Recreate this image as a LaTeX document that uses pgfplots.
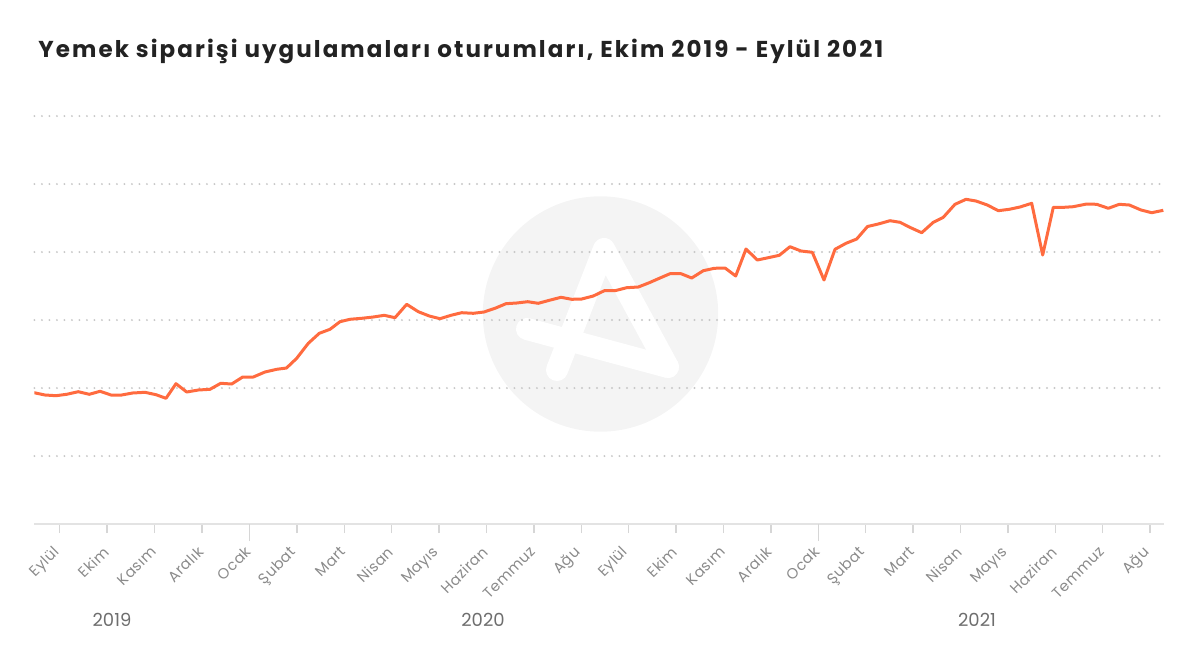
\documentclass[border=0pt]{standalone}
\usepackage{pgfplots}
\pgfplotsset{compat=1.18}
\usepackage{pgfplotstable}
\usepackage{graphicx}
\usepackage{fontspec}
\setmainfont{Poppins}
\newfontfamily\titlefont[LetterSpace=9]{Poppins}
\newfontfamily\labfont[LetterSpace=3]{Poppins}
\newcommand{\rl}[1]{\rotatebox{45}{#1}}
\definecolor{lineor}{HTML}{FF6B3F}
\definecolor{gridc}{HTML}{C8C8C8}
\definecolor{axc}{HTML}{E3E3E3}
\definecolor{tickc}{HTML}{D6D6D6}
\definecolor{labc}{HTML}{8A8A8A}
\definecolor{yearc}{HTML}{6E6E6E}
\definecolor{titc}{HTML}{222222}
\definecolor{wm}{HTML}{F4F4F4}
\pgfplotstableread{
x y
34 131.3
45 129
56 128.3
66.7 129.7
78.3 132.3
89.3 129.7
100 132.7
111 129
121.7 129
132.7 131
145 131.7
156 129.3
166 125.7
176 140.3
186.7 132
198.3 134
210 134.7
220.7 140.7
231.7 140
242.7 147
253.3 147
265 152
276.7 154.7
286.5 156
296.7 165.7
308.3 180.7
319.3 190.7
330 194.7
340 202.3
350 204.7
361.7 205.7
373.3 207
384.3 208.7
395 206.3
406.7 219.7
418.3 212.3
429.3 208
440 205.3
451 208.7
461.7 211.3
473.3 210.7
484 212
495 215.7
506 220.3
516.7 221
527.7 222.3
538.3 220.7
549.3 223.7
561 226.7
571.7 224.7
581.7 225
593.3 228
604.3 233.3
615 233.3
626.7 236.3
638.3 237
649.3 241.3
660 246
670 250.3
681 250.3
691.7 246
703.3 253.3
714.3 255.7
725 256
735.7 248
746 275
757.3 264
768.3 266.3
779.3 268.7
790 277.3
801 273
812.3 271.7
824 244
835 274.7
846 280.7
856.7 285
867.5 297.5
878.3 300
890 303.3
900 301.7
910.7 296.3
921.7 291.3
933.3 301.7
943.3 306.7
955 319.7
966 324.7
976 323
987.3 319
998.3 313.3
1009.3 314.7
1020 317
1031.7 320.7
1042.7 269
1053.3 316.7
1064 316.7
1073.3 317.3
1086.7 320
1096.7 319.7
1108.3 315.7
1119.3 319.7
1129.3 319
1141 314
1151.7 311.3
1163.3 313.7
}\sessions
\begin{document}
\begin{tikzpicture}
\begin{scope}[x=0.5pt,y=0.5pt]
\useasboundingbox (0,0) rectangle (1200,666);
% watermark
\fill[wm] (600.5,352) circle (58.85pt);
\draw[white,line width=11pt,line cap=round,line join=round] (557,296) -- (604,417) -- (668,299);
\draw[white,line width=11pt,line cap=round] (527,337) -- (668,299);
\end{scope}
\begin{axis}[
  at={(17.2pt,71pt)}, anchor=south west,
  scale only axis, width=564.55pt, height=204.5pt,
  xmin=34.4, xmax=1163.5, ymin=0, ymax=409,
  axis x line*=bottom, axis y line*=left,
  x axis line style={axc, line width=1pt, -},
  y axis line style={draw=none},
  ytick={68,136,204,272,340,408}, yticklabels={},
  ytick style={draw=none},
  ymajorgrids,
  major grid style={gridc, line width=1.1pt, dash pattern=on 0pt off 3.75pt, line cap=round},
  xtick={59.8,107.2,154.6,202.0,249.4,296.8,344.2,391.6,439.0,486.4,533.8,581.2,628.6,676.0,723.4,770.8,818.2,865.6,913.0,960.4,1007.8,1055.2,1102.6,1150.0},
  xticklabels={\rl{Eylül},\rl{Ekim},\rl{Kasım},\rl{Aralık},\rl{Ocak},\rl{Şubat},\rl{Mart},\rl{Nisan},\rl{Mayıs},\rl{Haziran},\rl{Temmuz},\rl{Ağu},\rl{Eylül},\rl{Ekim},\rl{Kasım},\rl{Aralık},\rl{Ocak},\rl{Şubat},\rl{Mart},\rl{Nisan},\rl{Mayıs},\rl{Haziran},\rl{Temmuz},\rl{Ağu}},
  tick align=outside, xtick pos=bottom,
  major tick length=4.5pt,
  x tick style={tickc, line width=0.7pt},
  x tick label style={font=\labfont\fontsize{7.4}{8}\selectfont, text=labc, inner sep=0pt, anchor=north east, yshift=-6pt, xshift=1.5pt},
  extra x ticks={249.4,818.2}, extra x tick labels={},
  extra x tick style={major tick length=8.5pt, x tick style={tickc, line width=0.7pt}},
]
\addplot[lineor, line width=1.5pt, line join=round] table[x=x,y=y] {\sessions};
\end{axis}
\begin{scope}[x=0.5pt,y=0.5pt]
\node[anchor=base west, titc, font=\titlefont\fontsize{11.5}{13}\selectfont\bfseries, inner sep=0pt] at (38,608.7) {Yemek siparişi uygulamaları oturumları, Ekim 2019 - Eylül 2021};
\node[anchor=base, yearc, font=\fontsize{9}{10}\selectfont, inner sep=0pt] at (112,40) {2019};
\node[anchor=base, yearc, font=\fontsize{9}{10}\selectfont, inner sep=0pt] at (483,40) {2020};
\node[anchor=base, yearc, font=\fontsize{9}{10}\selectfont, inner sep=0pt] at (977,40) {2021};
\end{scope}
\end{tikzpicture}
\end{document}
